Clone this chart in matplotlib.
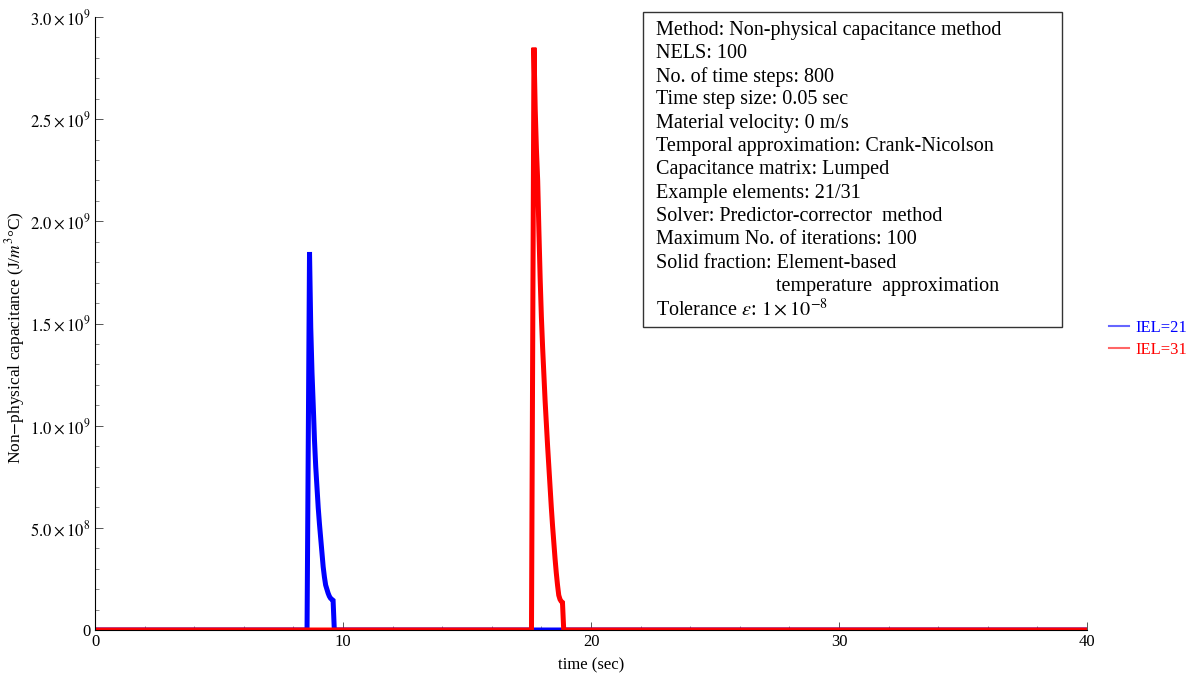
import matplotlib
matplotlib.use("Agg")
import matplotlib.pyplot as plt
from matplotlib.ticker import MultipleLocator, FuncFormatter
from matplotlib.patches import Rectangle

plt.rcParams['font.family'] = ['Liberation Serif', 'DejaVu Serif']
plt.rcParams['mathtext.fontset'] = 'stix'

# Blue series: IEL=21 (time in s, capacitance in J/m^3 C)
t21 = [0.0, 8.55, 8.65, 8.70, 8.75, 8.80, 8.85, 8.90, 8.95, 9.00, 9.05, 9.10,
       9.15, 9.20, 9.25, 9.30, 9.35, 9.40, 9.45, 9.50, 9.55, 9.60, 9.65, 40.0]
c21 = [0.0, 0.0, 1.85e9, 1.48e9, 1.26e9, 1.10e9, 0.93e9, 0.80e9, 0.70e9, 0.60e9,
       0.52e9, 0.45e9, 0.38e9, 0.31e9, 0.26e9, 0.22e9, 0.20e9, 0.18e9, 0.165e9,
       0.155e9, 0.15e9, 0.145e9, 0.0, 0.0]

# Red series: IEL=31
t31 = [0.0, 17.60, 17.70, 17.75, 17.80, 17.85, 17.90, 17.95, 18.00, 18.05, 18.10,
       18.15, 18.20, 18.25, 18.30, 18.35, 18.40, 18.45, 18.50, 18.55, 18.60, 18.65,
       18.70, 18.75, 18.80, 18.85, 18.90, 40.0]
c31 = [0.0, 0.0, 2.85e9, 2.55e9, 2.35e9, 2.20e9, 1.95e9, 1.72e9, 1.53e9, 1.38e9,
       1.25e9, 1.12e9, 1.01e9, 0.90e9, 0.80e9, 0.70e9, 0.60e9, 0.51e9, 0.43e9,
       0.35e9, 0.28e9, 0.22e9, 0.17e9, 0.15e9, 0.14e9, 0.135e9, 0.0, 0.0]

labels = ["IEL=21", "IEL=31"]
colors = ["#0000ff", "#ff0000"]

info_lines = [
    "Method: Non-physical capacitance method",
    "NELS: 100",
    "No. of time steps: 800",
    "Time step size: 0.05 sec",
    "Material velocity: 0 m/s",
    "Temporal approximation: Crank-Nicolson",
    "Capacitance matrix: Lumped",
    "Example elements: 21/31",
    "Solver: Predictor-corrector  method",
    "Maximum No. of iterations: 100",
    "Solid fraction: Element-based",
    "temperature  approximation",
    r"Tolerance $\epsilon$: $1\times10^{-8}$",
]
info_indent = [0, 0, 0, 0, 0, 0, 0, 0, 0, 0, 0, 120, 0]

fig = plt.figure(figsize=(12, 6.78), dpi=100)
ax = fig.add_axes([95/1200, 48/678, (1087-95)/1200, (630-17)/678])

l1, = ax.plot(t21, c21, color=colors[0], lw=3.6, label=labels[0], solid_joinstyle='miter')
l2, = ax.plot(t31, c31, color=colors[1], lw=3.6, label=labels[1], solid_joinstyle='miter')

ax.set_xlim(0, 40)
ax.set_ylim(0, 3.0e9)
for s in ['top', 'right']:
    ax.spines[s].set_visible(False)
ax.spines['left'].set_linewidth(0.8)
ax.spines['bottom'].set_linewidth(0.8)

ax.xaxis.set_major_locator(MultipleLocator(10))
ax.xaxis.set_minor_locator(MultipleLocator(2))
ax.yaxis.set_major_locator(MultipleLocator(0.5e9))
ax.yaxis.set_minor_locator(MultipleLocator(0.1e9))


def yfmt(v, pos):
    if abs(v) < 1:
        return "0"
    e = 9 if v >= 1e9 - 1 else 8
    return r"$%.1f\times10^{%d}$" % (v / 10**e, e)


ax.yaxis.set_major_formatter(FuncFormatter(yfmt))
ax.xaxis.set_major_formatter(FuncFormatter(lambda v, p: "%d" % v))
ax.tick_params(which='major', direction='in', length=6, width=0.7, labelsize=12, color='#555555')
ax.tick_params(which='minor', direction='in', length=3, width=0.6, color='#777777')
ax.tick_params(axis='x', pad=3)

ax.set_xlabel("time (sec)", fontsize=12, labelpad=5)
ax.set_ylabel(r"Non$-$physical capacitance (J/$m^3$°C)", fontsize=12.5)
ax.yaxis.set_label_coords((27 - 95) / 992, (630 - 338) / 613)

# info box
fig.patches.append(Rectangle((643/1200, 1 - 327/678), (1062-643)/1200, (327-12)/678,
                             transform=fig.transFigure, fill=False, ec='#333333', lw=1.0))
y0 = 30
for i, (line, ind) in enumerate(zip(info_lines, info_indent)):
    fig.text((656 + ind)/1200, 1 - (y0 + i*23.3)/678, line, fontsize=14.5, va='center', ha='left')

leg = fig.legend(handles=[l1, l2], loc='center left', bbox_to_anchor=(1094/1200, 1 - 339/678),
                 frameon=False, fontsize=12, handlelength=1.2, handletextpad=0.4,
                 labelcolor='linecolor', labelspacing=0.35)
for h in leg.legend_handles:
    h.set_linewidth(1.5)
    h.set_alpha(0.6)

fig.savefig("out.png", dpi=100)
